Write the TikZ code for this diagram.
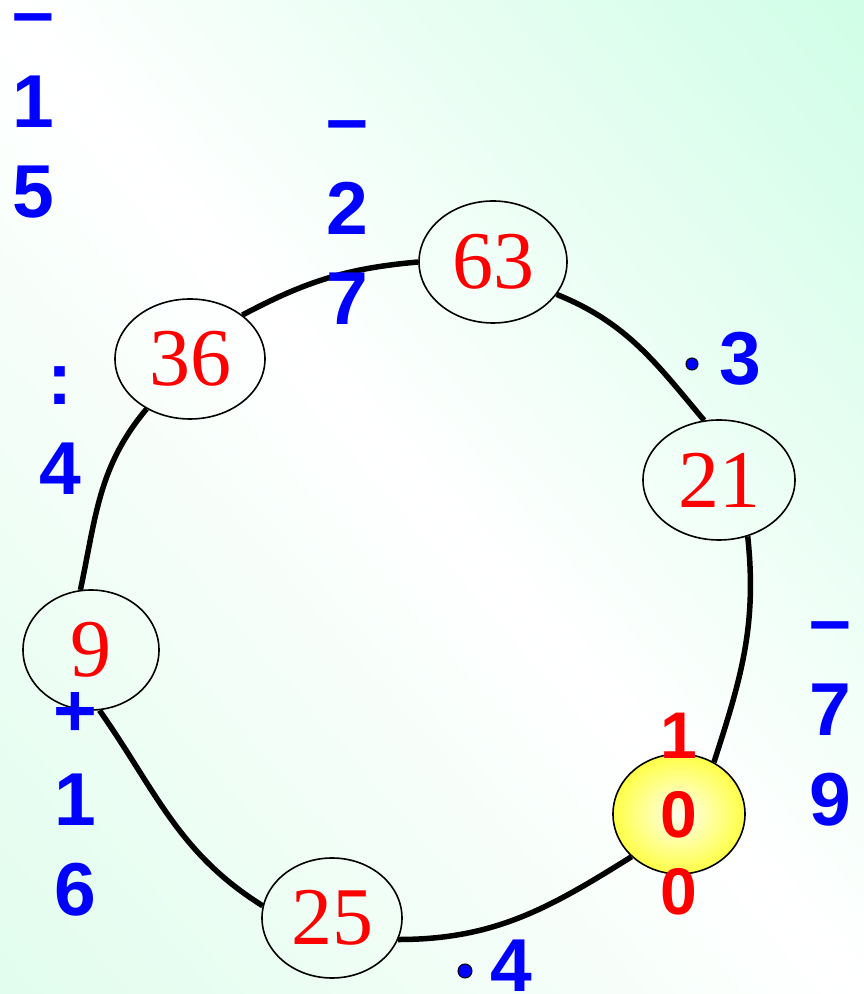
\documentclass[tikz,border=0pt]{standalone}
\usepackage{fontspec}
\setmainfont{Liberation Serif}
\newfontfamily\opfont{Liberation Sans}
\usepackage{tikz}
\usetikzlibrary{shapes.geometric}

\definecolor{opblue}{RGB}{0,0,255}
\definecolor{numred}{RGB}{255,0,0}
\definecolor{sunyellow}{RGB}{255,255,70}
% mint at top right and bottom left, white along the other diagonal
\pgfdeclarefunctionalshading{bgband}{\pgfpoint{-50bp}{-50bp}}{\pgfpoint{50bp}{50bp}}{}{
  add 100 div
  dup 0 lt
  { neg 0.75 div dup 1 gt {pop 1} if
    dup -0.1765 mul 1 add exch
    dup -0.0118 mul 1 add exch
    -0.1059 mul 1 add }
  { 0.75 div dup 1 gt {pop 1} if
    dup -0.2784 mul 1 add exch
    dup -0.0078 mul 1 add exch
    -0.1451 mul 1 add }
  ifelse
}

\tikzset{
  numbox/.style={ellipse,draw,line width=1.6pt,inner sep=0pt,text=numred,
                 font=\fontsize{82}{82}\selectfont},
  oplabel/.style={anchor=base,align=center,text=opblue,
                  font=\opfont\bfseries\fontsize{75}{90}\selectfont},
  opdot/.style={circle,draw,fill=opblue,line width=1pt,minimum size=12pt,inner sep=0pt},
  link/.style={line width=5.5pt},
}

\begin{document}
\begin{tikzpicture}[x=1pt,y=1pt]
  \useasboundingbox (0,0) rectangle (864,994);
  % --- background ---
  \shade[shading=bgband] (0,0) rectangle (864,994);
  % --- ring of numbers ---
  \node[numbox,minimum width=148pt,minimum height=122pt] (n63) at (493,732) {63};
  \node[numbox,minimum width=150pt,minimum height=120pt] (n36) at (190,635) {36};
  \node[numbox,minimum width=152pt,minimum height=120pt] (n21) at (719,514) {21};
  \node[numbox,minimum width=136pt,minimum height=120pt] (n9) at (91,344) {9};
  \node[numbox,minimum width=140pt,minimum height=120pt] (n25) at (332,76) {25};
  \node[numbox,minimum width=132pt,minimum height=120pt,
        inner color=sunyellow!8,outer color=sunyellow] (n100) at (679,180) {};
  % --- links ---
  \draw[link] (n36.40) to[out=28,in=185] (n63.west);
  \draw[link] (n63.-27) to[out=-22,in=130] (n21.104);
  \draw[link] (n21.-63) to[out=-84,in=72] (n100.56);
  \draw[link] (n100.222) to[out=212,in=0] (n25.-18);
  \draw[link] (n25.170) to[out=148,in=-55] (n9.-82);
  \draw[link] (n9.100) to[out=78,in=230] (n36.229);
  % --- operations (base = last line) ---
  \node[oplabel] (op15) at (33,776) {–\\1\\5};
  \node[oplabel] (op27) at (347,669) {–\\2\\7};
  \node[oplabel] (op79) at (830,168) {–\\7\\9};
  \node[oplabel] (opdiv) at (60,499) {:\\4};
  \node[oplabel] (op16) at (75,78) {+\\1\\6};
  \node[opdot] (dot3) at (692,630) {};
  \node[oplabel] (op3) at (740,609) {3};
  \node[opdot,minimum size=14pt] (dot4) at (465,23) {};
  \node[oplabel] (op4) at (511,2) {4};
  % answer
  \node[anchor=base,align=center,text=numred,font=\opfont\bfseries\fontsize{66}{78}\selectfont]
       (ans) at (679,79) {1\\0\\0};
\end{tikzpicture}
\end{document}
